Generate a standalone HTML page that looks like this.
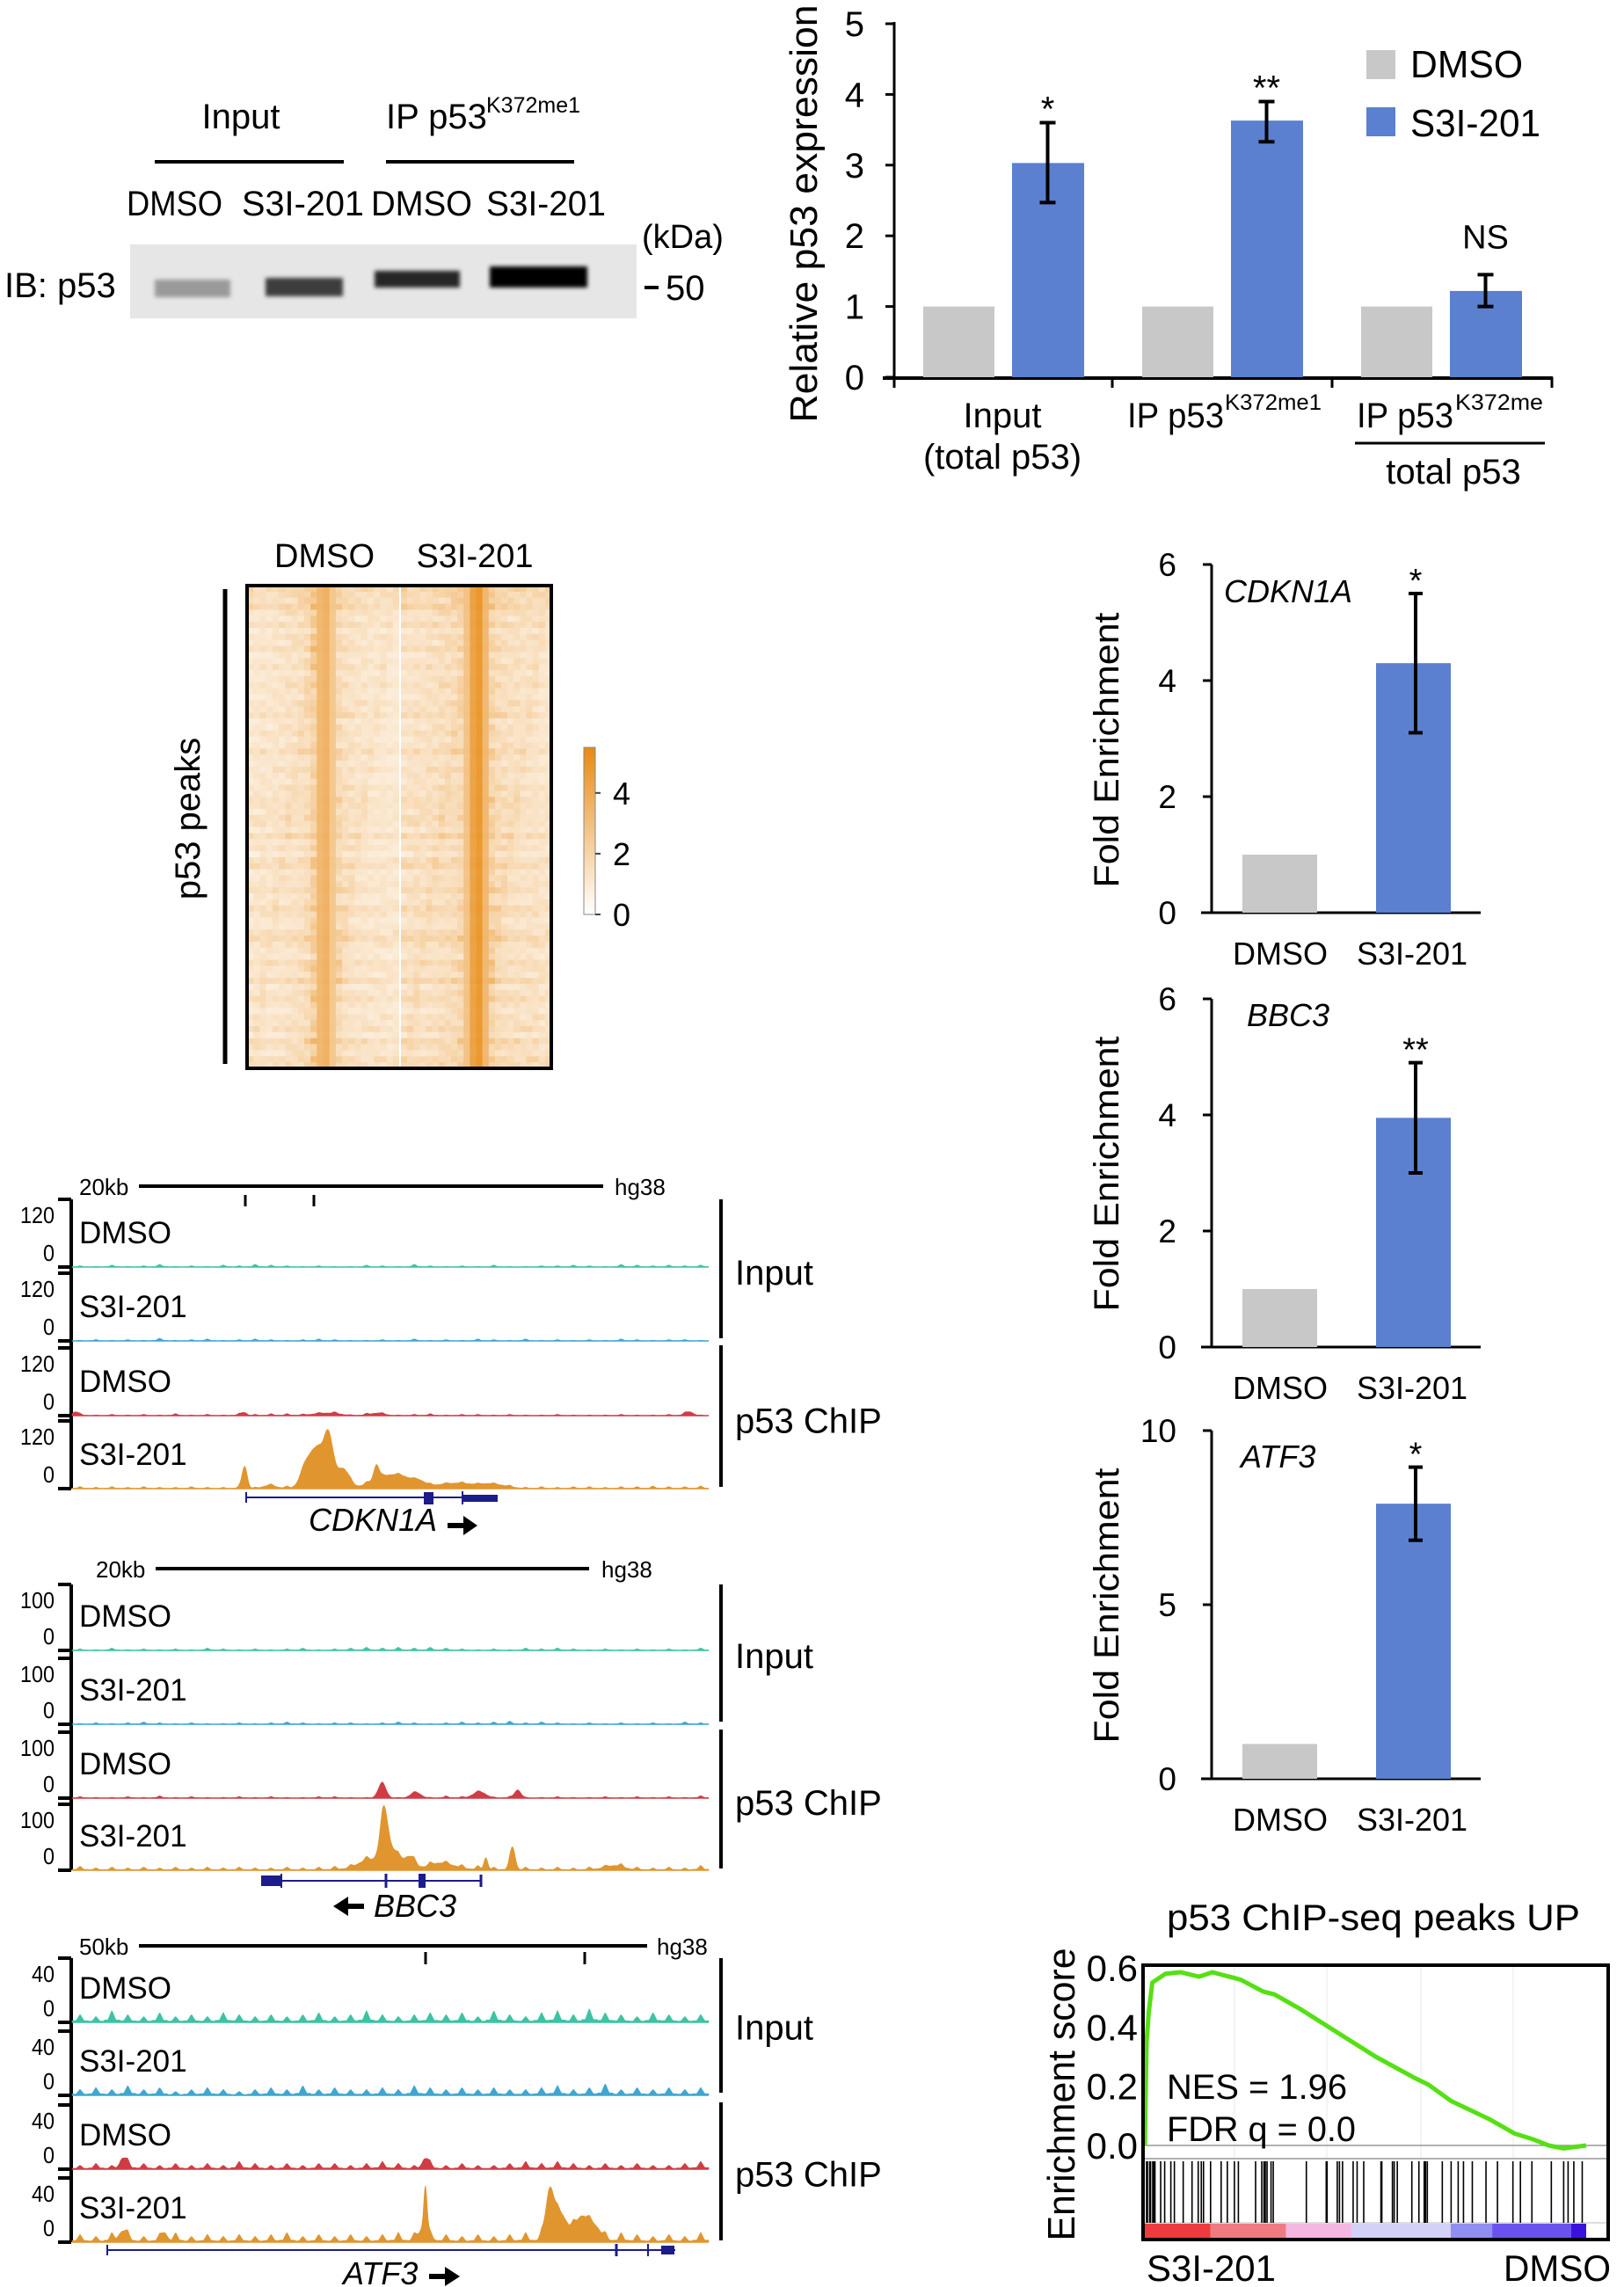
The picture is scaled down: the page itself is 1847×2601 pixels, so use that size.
<!DOCTYPE html>
<html><head><meta charset="utf-8">
<style>
html,body{margin:0;padding:0;background:#fff;}
svg{display:block;}
text{font-family:"Liberation Sans",sans-serif;fill:#000;}
.n{font-family:"Liberation Sans Narrow","Liberation Sans",sans-serif;}
</style></head>
<body>
<svg id="fig" xmlns="http://www.w3.org/2000/svg" width="1847" height="2601" viewBox="0 0 1847 2601">
<defs>
<filter id="blur2" x="-20%" y="-50%" width="140%" height="200%"><feGaussianBlur stdDeviation="2.5"/></filter>
</defs>
</svg>
<script>
// ---------- DATA ----------
const topCategories = ["Input", "IP p53K372me1", "IP p53K372me / total p53"];
const topDmso = [1, 1, 1];
const topS3i = [3.03, 3.63, 1.22];
const topErrLow = [2.47, 3.33, 1.0];
const topErrHigh = [3.6, 3.9, 1.45];
const topSig = ["*", "**", "NS"];
const topTicks = [0, 1, 2, 3, 4, 5];
const feGenes = ["CDKN1A", "BBC3", "ATF3"];
const feDmso = [1, 1, 1];
const feS3i = [4.3, 3.95, 7.9];
const feErrLow = [3.1, 3.0, 6.85];
const feErrHigh = [5.5, 4.9, 8.95];
const feSig = ["*", "**", "*"];
const feMax = [6, 6, 10];
const feTicks1 = [0, 2, 4, 6];
const feTicks2 = [0, 2, 4, 6];
const feTicks3 = [0, 5, 10];
const hmDmsoProfile = [1.3,1.3,1.4,1.3,1.4,1.4,1.5,1.5,1.6,1.8,2.4,3.3,3.6,2.6,1.9,1.6,1.5,1.4,1.4,1.3,1.3,1.3,1.2,1.2];
const hmS3iProfile = [1.5,1.5,1.6,1.5,1.6,1.6,1.7,1.7,1.8,2.0,2.8,4.3,4.8,3.3,2.2,1.8,1.7,1.6,1.6,1.5,1.5,1.5,1.4,1.4];
const hmRowFactor = [1.3,1.2,1.1,1.3,1.0,0.9,1.1,0.8,1.0,0.9,1.1,0.8,0.9,1.0,0.8,0.9,1.0,0.9,0.8,1.0,0.9,1.1,0.8,0.9,1.0,0.8,0.9,1.1,0.9,0.8,1.0,0.9,0.8,1.0,0.9,1.1,1.0,0.9,1.1,1.0,0.8,1.2,0.9,1.0,0.7,1.1,1.2,0.8,0.9,1.0,1.1,0.8,0.9,1.2,1.0,0.8,0.9,1.1,1.2,1.0,0.9,0.8,1.1,1.0,0.9,1.2,0.8,1.0,1.1,0.9,0.8,1.0,0.9,1.1,0.8,1.2,1.0,0.9,1.2,1.1];
const hmTicks = [0, 2, 4];
const cdkInDmsoPeaks = [];
const cdkInDmsoNoise = [2,1,3,1,2,4,1,2,1,3,2,4,3,2,1,2,1,1,3,2,1,4,2,1,2,1,3,1,1,2,2,3,2,1,4,3,2,3,2,3];
const cdkInS3iPeaks = [];
const cdkInS3iNoise = [1,2,1,2,1,4,1,2,3,1,2,3,2,1,2,3,2,1,1,2,1,3,1,2,1,3,2,1,3,1,2,1,2,1,3,2,1,2,2,1];
const cdkChDmsoPeaks = [[0.005,6,0.004],[0.27,5,0.004],[0.40,4,0.02],[0.48,4,0.01],[0.97,6,0.006]];
const cdkChDmsoNoise = [3,1,2,1,2,1,3,1,2,1,3,2,3,3,2,2,3,1,3,2,1,2,3,1,2,2,1,2,1,1,2,1,1,1,2,1,1,2,3,1];
const cdkChS3iPeaks = [[0.271,39,0.004],[0.31,5,0.01],[0.365,25,0.008],[0.384,70,0.012],[0.403,80,0.007],[0.425,35,0.01],[0.478,25,0.004],[0.49,20,0.02],[0.52,15,0.015],[0.545,10,0.01],[0.60,9,0.03],[0.66,7,0.02]];
const cdkChS3iNoise = [3,2,3,2,3,2,2,3,2,2,3,2,3,4,2,3,2,3,4,3,3,2,3,2,3,2,2,3,2,3,2,3,3,2,3,3,4,3,3,4];
const bbcInDmsoPeaks = [];
const bbcInDmsoNoise = [2,1,3,1,2,1,2,1,3,2,1,2,1,2,3,1,2,3,4,3,4,3,4,3,2,1,2,1,3,2,3,2,1,2,1,2,1,2,1,3];
const bbcInS3iPeaks = [];
const bbcInS3iNoise = [1,2,1,2,3,2,1,2,1,1,2,1,2,3,2,1,2,2,1,2,3,2,1,2,3,2,3,4,2,3,2,1,2,1,2,1,2,1,3,2];
const bbcChDmsoPeaks = [[0.487,22,0.006],[0.54,8,0.008],[0.64,9,0.01],[0.70,12,0.005]];
const bbcChDmsoNoise = [2,1,1,2,1,3,1,2,1,1,2,1,2,1,1,2,2,1,1,2,1,2,1,3,2,2,1,2,1,1,2,1,1,2,1,2,1,2,1,3];
const bbcChS3iPeaks = [[0.47,15,0.02],[0.49,75,0.006],[0.505,25,0.01],[0.53,18,0.008],[0.58,10,0.02],[0.65,18,0.003],[0.692,33,0.004],[0.85,6,0.015]];
const bbcChS3iNoise = [5,3,4,3,4,3,4,3,4,3,4,3,3,4,3,4,5,4,6,7,5,6,5,4,5,6,4,5,4,3,4,3,4,3,5,4,3,4,3,6];
const atfInDmsoPeaks = [];
const atfInDmsoNoise = [4,3,6,4,3,5,3,4,3,5,4,3,4,3,4,5,3,4,6,4,3,4,5,4,5,3,6,4,3,5,6,4,7,5,4,3,5,4,3,4];
const atfInS3iPeaks = [];
const atfInS3iNoise = [3,4,3,5,3,4,2,3,4,3,2,3,4,3,5,3,4,3,3,4,3,5,4,3,4,3,4,3,3,4,5,3,4,6,3,4,3,4,3,4];
const atfChDmsoPeaks = [[0.08,6,0.005],[0.555,6,0.005]];
const atfChDmsoNoise = [2,3,2,4,3,2,3,2,3,2,4,3,2,3,2,3,3,2,3,4,3,2,3,2,3,2,2,3,4,3,4,3,2,3,2,3,2,2,3,4];
const atfChS3iPeaks = [[0.08,6,0.006],[0.145,5,0.004],[0.555,27,0.0025],[0.553,8,0.008],[0.75,25,0.006],[0.765,18,0.012],[0.80,14,0.01],[0.82,9,0.01]];
const atfChS3iNoise = [4,3,5,4,3,4,5,3,4,3,4,3,4,5,3,4,3,4,3,4,5,4,3,4,3,4,3,4,5,4,3,4,3,4,5,4,3,4,3,5];
const esRank = [0,0.004,0.009,0.017,0.047,0.081,0.123,0.153,0.217,0.268,0.294,0.353,0.438,0.523,0.609,0.643,0.694,0.779,0.838,0.881,0.915,0.949,1.0];
const esScore = [0.0,0.35,0.45,0.55,0.58,0.585,0.57,0.585,0.56,0.52,0.51,0.46,0.38,0.30,0.23,0.205,0.15,0.09,0.04,0.02,0.0,-0.01,0.0];
const esTicks = [0.0,0.2,0.4,0.6];
const hitRanks = [.004,.006,.011,.013,.018,.020,.023,.036,.045,.059,.067,.087,.107,.121,.128,.133,.149,.173,.187,.203,.212,.251,.265,.270,.273,.277,.286,.291,.366,.411,.413,.436,.441,.448,.472,.481,.496,.535,.537,.561,.565,.572,.605,.621,.633,.636,.640,.674,.694,.710,.722,.742,.773,.799,.834,.851,.877,.921,.949,.959,.972,.991];
const rankBarStops = [0,0.149,0.32,0.468,0.693,0.787,0.966,1.0];
const rankBarColors = ["#ee3b3f","#f07a82","#f6b6e2","#d2d2f8","#8f8ff2","#6a52ef","#3a12de"];

// ---------- HELPERS ----------
const NS = "http://www.w3.org/2000/svg";
const svg = document.getElementById("fig");
function mk(tag, attrs, parent, name) {
  const el = document.createElementNS(NS, tag);
  for (const k in attrs) el.setAttribute(k, attrs[k]);
  
  
  (parent || svg).appendChild(el);
  return el;
}
function txt(x, y, s, size, name, o) {
  o = o || {};
  const el = document.createElementNS(NS, "text");
  el.setAttribute("x", x); el.setAttribute("y", y);
  el.setAttribute("font-size", size);
  if (o.anchor) el.setAttribute("text-anchor", o.anchor);
  if (o.narrow) el.setAttribute("class", "n");
  if (o.italic) el.setAttribute("font-style", "italic");
  if (o.len) { el.setAttribute("textLength", o.len); el.setAttribute("lengthAdjust", "spacingAndGlyphs"); }
  if (o.rot) el.setAttribute("transform", "rotate(-90 " + x + " " + y + ")");
  if (o.fill) el.setAttribute("style", "fill:" + o.fill);
  el.textContent = s;
  
  
  (o.parent || svg).appendChild(el);
  return el;
}
function line(x1, y1, x2, y2, w, name, col, parent) {
  return mk("line", {x1: x1, y1: y1, x2: x2, y2: y2, stroke: col || "#000", "stroke-width": w}, parent, name);
}

// ---------- WESTERN BLOT ----------
const wb = mk("g", {}, svg, "western-blot-panel");
txt(274, 146, "Input", 40, "input-header", {anchor: "middle", narrow: true, parent: wb});
txt(439, 146, "IP p53", 40, "ip-header", {narrow: true, parent: wb});
txt(553, 128, "K372me1", 25, "ip-header-superscript", {narrow: true, parent: wb});
line(176, 184, 391, 184, 4, "input-bracket-line", "#000", wb);
line(439, 184, 653, 184, 4, "ip-bracket-line", "#000", wb);
txt(144, 245, "DMSO", 40, "lane-label-dmso-1", {narrow: true, len: 109, parent: wb});
txt(275, 245, "S3I-201", 40, "lane-label-s3i-1", {narrow: true, len: 139, parent: wb});
txt(422, 245, "DMSO", 40, "lane-label-dmso-2", {narrow: true, len: 115, parent: wb});
txt(553, 245, "S3I-201", 40, "lane-label-s3i-2", {narrow: true, len: 136, parent: wb});
txt(730, 282, "(kDa)", 38, "kda-label", {narrow: true, parent: wb});
mk("rect", {x: 148, y: 278, width: 576, height: 84, fill: "#e6e6e6"}, wb, "blot-membrane");
const bands = [[176,318,86,20,"#9a9a9a"],[302,316,88,21,"#3e3e3e"],[426,308,97,19,"#262626"],[557,303,111,24,"#050505"]];
bands.forEach(function(b, i){
  const r = mk("rect", {x: b[0], y: b[1], width: b[2], height: b[3], fill: b[4], filter: "url(#blur2)"}, wb, "band");
  
});
txt(5, 338, "IB: p53", 40, "ib-label", {narrow: true, parent: wb});
line(733, 327, 749, 327, 4, "marker-dash", "#000", wb);
txt(757, 341, "50", 40, "marker-50", {narrow: true, parent: wb});

// ---------- TOP BAR CHART ----------
(function(){
  const g = mk("g", {}, svg, "relative-expression-chart");
  const x0 = 1017, y0 = 429, unit = 80.4;
  const ys = v => y0 - v * unit;
  const groupX = [1050, 1299, 1548];
  const bw = 81, gap = 101;
  line(x0, ys(5) - 2, x0, y0, 3, "y-axis", "#000", g);
  topTicks.forEach(t => {
    line(x0 - 10, ys(t), x0, ys(t), 3, "y-tick", "#000", g);
    txt(983, ys(t) + 14, String(t), 40, "y-tick-label", {anchor: "end", narrow: true, parent: g});
  });
  line(1004, y0 + 1, 1766, y0 + 1, 4, "x-axis", "#000", g);
  [1017, 1265, 1515, 1765].forEach(x => line(x, y0, x, 441, 3, "x-group-divider", "#000", g));
  topCategories.forEach((c, i) => {
    const gx = groupX[i];
    const b1 = mk("rect", {x: gx, y: ys(topDmso[i]), width: bw, height: y0 - ys(topDmso[i]), fill: "#c8c8c8"}, g, "bar");
    
    const sx = gx + gap;
    const b2 = mk("rect", {x: sx, y: ys(topS3i[i]), width: bw + 1, height: y0 - ys(topS3i[i]), fill: "#5a80cf"}, g, "bar");
    
    const cx = sx + bw / 2;
    line(cx, ys(topErrHigh[i]), cx, ys(topErrLow[i]), 4, "error-bar", "#000", g);
    line(cx - 9, ys(topErrHigh[i]), cx + 9, ys(topErrHigh[i]), 4, "error-cap-top", "#000", g);
    line(cx - 9, ys(topErrLow[i]), cx + 9, ys(topErrLow[i]), 4, "error-cap-bottom", "#000", g);
    const isNs = topSig[i] === "NS";
    txt(cx, ys(topErrHigh[i]) - (isNs ? 30 : 2), topSig[i], isNs ? 38 : 40, "significance-label", {anchor: "middle", narrow: true, parent: g});
  });
  txt(929, 243, "Relative p53 expression", 44, "y-axis-title", {anchor: "middle", rot: true, len: 475, parent: g});
  mk("rect", {x: 1554, y: 57, width: 33, height: 33, fill: "#c8c8c8"}, g, "legend-swatch-dmso");
  txt(1604, 88, "DMSO", 44, "legend-label-dmso", {narrow: true, len: 128, parent: g});
  mk("rect", {x: 1554, y: 122, width: 33, height: 33, fill: "#5a80cf"}, g, "legend-swatch-s3i");
  txt(1604, 155, "S3I-201", 44, "legend-label-s3i", {narrow: true, len: 148, parent: g});
  txt(1140, 486, "Input", 40, "x-label-input", {anchor: "middle", narrow: true, parent: g});
  txt(1140, 533, "(total p53)", 40, "x-label-input-sub", {anchor: "middle", narrow: true, parent: g});
  txt(1282, 486, "IP p53", 40, "x-label-ip", {narrow: true, len: 110, parent: g});
  txt(1393, 466, "K372me1", 25, "x-label-ip-sup", {narrow: true, len: 110, parent: g});
  txt(1543, 486, "IP p53", 40, "x-label-ratio", {narrow: true, len: 110, parent: g});
  txt(1655, 466, "K372me", 25, "x-label-ratio-sup", {narrow: true, len: 100, parent: g});
  line(1541, 504, 1757, 504, 3, "ratio-line", "#000", g);
  txt(1653, 550, "total p53", 40, "x-label-ratio-denominator", {anchor: "middle", narrow: true, parent: g});
})();

// ---------- HEATMAP ----------
(function(){
  const g = mk("g", {}, svg, "heatmap-panel");
  const left = 281, top = 666, w = 346, h = 549;
  const mid = 454;
  const color = v => {
    const t = Math.max(0, Math.min(1, v / 5.5));
    const r = Math.round(255 + (232 - 255) * t), gg = Math.round(255 + (138 - 255) * t), b = Math.round(255 + (18 - 255) * t);
    return "rgb(" + r + "," + gg + "," + b + ")";
  };
  const rowH = h / hmRowFactor.length;
  [[hmDmsoProfile, left], [hmS3iProfile, mid + 2]].forEach((pair, k) => {
    const prof = pair[0], x0 = pair[1];
    const cw = (k === 0 ? mid - left : left + w - mid - 2) / prof.length;
    prof.forEach((v, ci) => {
      hmRowFactor.forEach((rf, ri) => {
        const rf2 = hmRowFactor[(ri + ci * 7) % hmRowFactor.length];
        const val = v > 2.5 ? v * (0.9 + 0.1 * rf) : v * rf * rf2;
        const c = mk("rect", {x: (x0 + ci * cw).toFixed(1), y: (top + ri * rowH).toFixed(1), width: (cw + 0.6).toFixed(1), height: (rowH + 0.6).toFixed(1), fill: color(val)}, g, "heatmap-cell");
        
      });
    });
  });
  mk("rect", {x: mid, y: top, width: 2, height: h, fill: "#ffffff"}, g, "condition-divider");
  mk("rect", {x: left, y: top, width: w, height: h, fill: "none", stroke: "#000", "stroke-width": 4}, g, "heatmap-frame");
  txt(369, 645, "DMSO", 38, "heatmap-label-dmso", {anchor: "middle", parent: g});
  txt(540, 645, "S3I-201", 38, "heatmap-label-s3i", {anchor: "middle", parent: g});
  line(256, 670, 256, 1210, 5, "peaks-bracket", "#000", g);
  txt(227, 931, "p53 peaks", 40, "p53-peaks-label", {anchor: "middle", rot: true, parent: g});
  const cbTop = 850, cbBot = 1040, cbX = 664;
  const grad = mk("linearGradient", {id: "cbgrad", x1: 0, y1: 1, x2: 0, y2: 0}, svg.querySelector("defs"), "colorbar-gradient");
  mk("stop", {offset: 0, "stop-color": "#ffffff"}, grad, "stop");
  mk("stop", {offset: 1, "stop-color": "#e88a12"}, grad, "stop");
  mk("rect", {x: cbX, y: cbTop, width: 13, height: cbBot - cbTop, fill: "url(#cbgrad)", stroke: "#888", "stroke-width": 1}, g, "colorbar");
  const cy = v => cbBot - v / 5.5 * (cbBot - cbTop);
  hmTicks.forEach(t => {
    line(cbX + 13, cy(t), cbX + 19, cy(t), 2, "colorbar-tick", "#444", g);
    txt(697, cy(t) + 13, String(t), 36, "colorbar-tick-label", {parent: g});
  });
})();

// ---------- FOLD ENRICHMENT CHARTS ----------
const feY0 = [1038, 1532, 2023];
const feTickSets = [feTicks1, feTicks2, feTicks3];
const feLabelY = [685, 1167, 1669];
const feLabelX = [1392, 1418, 1411];
const feTitleY = [853, 1335, 1826];
feGenes.forEach((gene, i) => {
  const g = mk("g", {}, svg, "fold-enrichment-chart");
  
  const x0 = 1378, y0 = feY0[i], hgt = 396;
  const ys = v => y0 - v / feMax[i] * hgt;
  line(x0, ys(feMax[i]), x0, y0, 3, "y-axis", "#000", g);
  line(1366, y0, 1684, y0, 3, "x-axis", "#000", g);
  feTickSets[i].forEach(t => {
    line(x0 - 10, ys(t), x0, ys(t), 3, "y-tick", "#000", g);
    txt(1338, ys(t) + 13, String(t), 37, "y-tick-label", {anchor: "end", parent: g});
  });
  mk("rect", {x: 1413, y: ys(feDmso[i]), width: 85, height: y0 - ys(feDmso[i]), fill: "#c8c8c8"}, g, "bar-dmso");
  mk("rect", {x: 1565, y: ys(feS3i[i]), width: 85, height: y0 - ys(feS3i[i]), fill: "#5a80cf"}, g, "bar-s3i");
  const cx = 1610;
  line(cx, ys(feErrHigh[i]), cx, ys(feErrLow[i]), 4, "error-bar", "#000", g);
  line(cx - 8, ys(feErrHigh[i]), cx + 8, ys(feErrHigh[i]), 4, "error-cap-top", "#000", g);
  line(cx - 8, ys(feErrLow[i]), cx + 8, ys(feErrLow[i]), 4, "error-cap-bottom", "#000", g);
  txt(cx, ys(feErrHigh[i]) - 2, feSig[i], 38, "significance-label", {anchor: "middle", parent: g});
  txt(feLabelX[i], feLabelY[i], gene, 36, "gene-label", {italic: true, parent: g});
  txt(1456, y0 + 59, "DMSO", 36, "x-label-dmso", {anchor: "middle", parent: g});
  txt(1606, y0 + 59, "S3I-201", 36, "x-label-s3i", {anchor: "middle", parent: g});
  txt(1272, feTitleY[i], "Fold Enrichment", 40, "y-axis-title", {anchor: "middle", rot: true, narrow: true, len: 313, parent: g});
});

// ---------- GENOME TRACKS ----------
function drawTrack(g, peaks, noise, x0, x1, base, hPx, maxV, color, name) {
  const W = x1 - x0;
  let d = "M" + x0 + "," + base;
  for (let px = 0; px <= W; px++) {
    const f = px / W;
    let v = 0;
    peaks.forEach(p => { const z = (f - p[0]) / p[2]; v += p[1] * Math.exp(-z * z / 2); });
    const nk = noise.length;
    const pos = f * nk;
    const k = Math.floor(pos);
    const frac = pos - k;
    const nv = noise[Math.min(k, nk - 1)];
    v += nv * Math.max(0, 1 - Math.abs(frac - 0.5) * 4) + nv * 0.25;
    const y = base - Math.min(v, maxV) / maxV * hPx;
    d += " L" + (x0 + px) + "," + y.toFixed(1);
  }
  d += " L" + x1 + "," + base + " Z";
  mk("path", {d: d, fill: color, stroke: color, "stroke-width": 0.6}, g, name);
  line(x0, base, x1, base, 1.5, name + "-baseline", color, g);
}
const trackColors = ["#3cc3a4", "#3ea6d2", "#d13c44", "#e0952e"];
const trackNames = ["DMSO", "S3I-201", "DMSO", "S3I-201"];
const panels = [
  {name: "cdkn1a", bases: [1441,1525,1610,1693], h: 77, max: 120, label: "120",
   tracks: [[cdkInDmsoPeaks, cdkInDmsoNoise],[cdkInS3iPeaks, cdkInS3iNoise],[cdkChDmsoPeaks, cdkChDmsoNoise],[cdkChS3iPeaks, cdkChS3iNoise]]},
  {name: "bbc3", bases: [1877,1961,2045,2127], h: 75, max: 100, label: "100",
   tracks: [[bbcInDmsoPeaks, bbcInDmsoNoise],[bbcInS3iPeaks, bbcInS3iNoise],[bbcChDmsoPeaks, bbcChDmsoNoise],[bbcChS3iPeaks, bbcChS3iNoise]]},
  {name: "atf3", bases: [2300,2383,2467,2550], h: 73, max: 40, label: "40",
   tracks: [[atfInDmsoPeaks, atfInDmsoNoise],[atfInS3iPeaks, atfInS3iNoise],[atfChDmsoPeaks, atfChDmsoNoise],[atfChS3iPeaks, atfChS3iNoise]]}
];
panels.forEach((p) => {
  const g = mk("g", {}, svg, "genome-browser-panel");
  
  const x0 = 81, x1 = 806;
  line(x0, p.bases[0] - p.h, x0, p.bases[3], 4, "track-axis", "#000", g);
  p.tracks.forEach((t, ti) => {
    const base = p.bases[ti];
    drawTrack(g, t[0], t[1], x0 + 1, x1, base, p.h, p.max, trackColors[ti], "signal-track");
    line(66, base - p.h, x0, base - p.h, 4, "scale-tick-top", "#000", g);
    line(66, base, x0, base, 4, "scale-tick-zero", "#000", g);
    txt(62, base - p.h + 27, p.label, 26, "scale-label-max", {anchor: "end", narrow: true, len: p.label.length * 13, parent: g});
    txt(62, base - 7, "0", 26, "scale-label-zero", {anchor: "end", narrow: true, len: 13, parent: g});
    txt(90, base - 27, trackNames[ti], 35, "track-name", {narrow: true, parent: g});
  });
  line(820, p.bases[0] - p.h, 820, p.bases[1] - 3, 4, "input-bracket", "#000", g);
  line(820, p.bases[2] - p.h - 3, 820, p.bases[3] - 2, 4, "chip-bracket", "#000", g);
  txt(836, (p.bases[0] + p.bases[1]) / 2 - 22, "Input", 40, "group-label-input", {narrow: true, parent: g});
  txt(836, (p.bases[2] + p.bases[3]) / 2 - 22, "p53 ChIP", 40, "group-label-chip", {narrow: true, parent: g});
});
(function(){
  const g = mk("g", {}, svg, "genome-annotations");
  txt(90, 1359, "20kb", 26, "scale-bar-label-1", {narrow: true, parent: g});
  line(158, 1349, 686, 1349, 4, "scale-bar-1", "#000", g);
  txt(699, 1359, "hg38", 26, "genome-label-1", {narrow: true, parent: g});
  line(279, 1359, 279, 1372, 3, "locus-tick", "#000", g);
  line(357, 1359, 357, 1372, 3, "locus-tick", "#000", g);
  line(279, 1703, 564, 1703, 2, "cdkn1a-intron", "#1c1c8a", g);
  line(280, 1697, 280, 1709, 2, "cdkn1a-end", "#1c1c8a", g);
  mk("rect", {x: 482, y: 1697, width: 11, height: 14, fill: "#1c1c8a"}, g, "cdkn1a-exon");
  mk("rect", {x: 526, y: 1700, width: 40, height: 8, fill: "#1c1c8a"}, g, "cdkn1a-exon");
  line(526, 1696, 526, 1711, 2, "cdkn1a-tss", "#1c1c8a", g);
  txt(351, 1741, "CDKN1A", 36, "gene-name-cdkn1a", {italic: true, narrow: true, parent: g});
  mk("path", {d: "M509,1732 L527,1732 L527,1724 L543,1735 L527,1746 L527,1738 L509,1738 Z", fill: "#000"}, g, "strand-arrow");

  txt(109, 1794, "20kb", 26, "scale-bar-label-2", {narrow: true, parent: g});
  line(177, 1784, 670, 1784, 4, "scale-bar-2", "#000", g);
  txt(684, 1794, "hg38", 26, "genome-label-2", {narrow: true, parent: g});
  line(297, 2139, 548, 2139, 2, "bbc3-intron", "#1c1c8a", g);
  mk("rect", {x: 297, y: 2133, width: 23, height: 12, fill: "#1c1c8a"}, g, "bbc3-exon");
  line(320, 2131, 320, 2147, 2, "bbc3-tick", "#1c1c8a", g);
  line(439, 2131, 439, 2147, 3, "bbc3-tick", "#1c1c8a", g);
  mk("rect", {x: 476, y: 2131, width: 8, height: 16, fill: "#1c1c8a"}, g, "bbc3-exon");
  line(547, 2132, 547, 2146, 3, "bbc3-end", "#1c1c8a", g);
  mk("path", {d: "M414,2165 L396,2165 L396,2157 L379,2168 L396,2179 L396,2171 L414,2171 Z", fill: "#000"}, g, "strand-arrow");
  txt(425, 2180, "BBC3", 36, "gene-name-bbc3", {italic: true, narrow: true, parent: g});

  txt(90, 2223, "50kb", 26, "scale-bar-label-3", {narrow: true, parent: g});
  line(158, 2213, 736, 2213, 4, "scale-bar-3", "#000", g);
  txt(747, 2223, "hg38", 26, "genome-label-3", {narrow: true, parent: g});
  line(484, 2220, 484, 2234, 3, "locus-tick", "#000", g);
  line(665, 2220, 665, 2234, 3, "locus-tick", "#000", g);
  line(121, 2559, 768, 2559, 2, "atf3-intron", "#1c1c8a", g);
  line(122, 2553, 122, 2565, 2, "atf3-end", "#1c1c8a", g);
  line(701, 2552, 701, 2566, 3, "atf3-tick", "#1c1c8a", g);
  line(737, 2552, 737, 2566, 2, "atf3-tick", "#1c1c8a", g);
  mk("rect", {x: 752, y: 2554, width: 15, height: 10, fill: "#1c1c8a"}, g, "atf3-exon");
  txt(390, 2598, "ATF3", 36, "gene-name-atf3", {italic: true, narrow: true, parent: g});
  mk("path", {d: "M488,2586 L506,2586 L506,2578 L523,2589 L506,2600 L506,2592 L488,2592 Z", fill: "#000"}, g, "strand-arrow");
})();

// ---------- GSEA ----------
(function(){
  const g = mk("g", {}, svg, "gsea-panel");
  const L = 1300, R = 1829, T = 2235, B = 2547;
  const dx0 = 1302, dx1 = 1804;
  const xs = r => dx0 + r * (dx1 - dx0);
  const ys = v => 2440 - v * 336.7;
  [1404, 1509, 1616, 1721].forEach(x => line(x, T, x, 2455, 1, "gsea-grid", "#e8e8e8", g));
  line(L, 2440, R, 2440, 1.5, "zero-line", "#999", g);
  line(L, 2455, R, 2455, 1.5, "separator", "#999", g);
  line(L, 2528, R, 2528, 1, "separator-2", "#bbb", g);
  hitRanks.forEach(r => {
    const h = mk("line", {x1: xs(r), y1: 2458, x2: xs(r), y2: 2528, stroke: "#000", "stroke-width": 1.6}, g, "hit");
    
  });
  rankBarColors.forEach((c, i) => {
    mk("rect", {x: xs(rankBarStops[i]), y: 2529, width: xs(rankBarStops[i+1]) - xs(rankBarStops[i]), height: 17, fill: c}, g, "rank-color-segment");
  });
  let d = "";
  esRank.forEach((r, i) => { d += (i ? " L" : "M") + xs(r).toFixed(1) + "," + ys(esScore[i]).toFixed(1); });
  mk("path", {d: d, fill: "none", stroke: "#55e014", "stroke-width": 5, "stroke-linejoin": "round"}, g, "enrichment-curve");
  mk("rect", {x: L, y: T, width: R - L, height: B - T, fill: "none", stroke: "#000", "stroke-width": 4}, g, "gsea-frame");
  esTicks.forEach(t => txt(1294, ys(t) + 15, t.toFixed(1), 42, "es-tick-label", {anchor: "end", narrow: true, parent: g}));
  txt(1222, 2382, "Enrichment score", 44, "y-axis-title", {anchor: "middle", rot: true, len: 333, parent: g});
  txt(1562, 2195, "p53 ChIP-seq peaks UP", 42, "gsea-title", {anchor: "middle", narrow: true, len: 470, parent: g});
  txt(1327, 2387, "NES = 1.96", 40, "nes-label", {narrow: true, len: 205, parent: g});
  txt(1327, 2435, "FDR q = 0.0", 40, "fdr-label", {narrow: true, len: 215, parent: g});
  txt(1304, 2594, "S3I-201", 42, "rank-left-label", {narrow: true, len: 147, parent: g});
  txt(1710, 2594, "DMSO", 42, "rank-right-label", {narrow: true, len: 122, parent: g});
})();
</script>
</body></html>
